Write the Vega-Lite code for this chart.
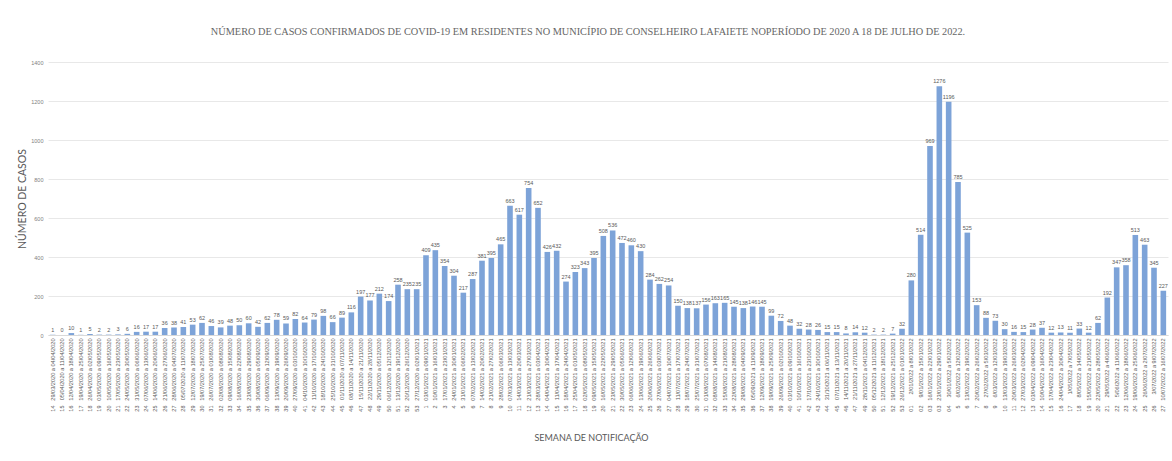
{
  "$schema": "https://vega.github.io/schema/vega-lite/v6.json",
  "width": 1120,
  "height": 273,
  "autosize": {"type": "none"},
  "padding": {"left": 48, "top": 62, "right": 4, "bottom": 126},
  "background": "white",
  "title": {
    "text": "NÚMERO DE CASOS  CONFIRMADOS DE COVID-19 EM RESIDENTES NO MUNICÍPIO DE CONSELHEIRO LAFAIETE NOPERÍODO DE  2020 A 18 DE JULHO DE 2022.",
    "font": "Liberation Serif",
    "fontSize": 10.3,
    "fontWeight": "normal",
    "color": "#666666",
    "anchor": "middle",
    "offset": 23,
    "dx": -20
  },
  "config": {"view": {"stroke": null}},
  "data": {
    "values": [
      {"k": "14|29/03/2020 a 04/04/2020", "n": 1},
      {"k": "15|05/04/2020 a 11/04/2020", "n": 0},
      {"k": "16|12/04/2020 a 18/04/2020", "n": 10},
      {"k": "17|19/04/2020 a 25/04/2020", "n": 1},
      {"k": "18|26/04/2020 a 02/05/2020", "n": 5},
      {"k": "19|03/05/2020 a 09/05/2020", "n": 2},
      {"k": "20|10/05/2020 a 16/05/2020", "n": 2},
      {"k": "21|17/05/2020 a 23/05/2020", "n": 3},
      {"k": "22|24/05/2020 a 30/05/2020", "n": 6},
      {"k": "23|31/05/2020 a 06/06/2020", "n": 16},
      {"k": "24|07/06/2020 a 13/06/2020", "n": 17},
      {"k": "25|14/06/2020 a 20/06/2020", "n": 17},
      {"k": "26|21/06/2020 a 27/06/2020", "n": 36},
      {"k": "27|28/06/2020 a 04/07/2020", "n": 38},
      {"k": "28|05/07/2020 a 11/07/2020", "n": 41},
      {"k": "29|12/07/2020 a 18/07/2020", "n": 53},
      {"k": "30|19/07/2020 a 25/07/2020", "n": 62},
      {"k": "31|26/07/2020 a 01/08/2020", "n": 46},
      {"k": "32|02/08/2020 a 08/08/2020", "n": 39},
      {"k": "33|09/08/2020 a 15/08/2020", "n": 48},
      {"k": "34|16/08/2020 a 22/08/2020", "n": 50},
      {"k": "35|23/08/2020 a 29/08/2020", "n": 60},
      {"k": "36|30/08/2020 a 05/09/2020", "n": 42},
      {"k": "37|06/09/2020 a 12/09/2020", "n": 62},
      {"k": "38|13/09/2020 a 19/09/2020", "n": 78},
      {"k": "39|20/09/2020 a 26/09/2020", "n": 59},
      {"k": "40|27/09/2020 a 03/10/2020", "n": 82},
      {"k": "41|04/10/2020 a 10/10/2020", "n": 64},
      {"k": "42|11/10/2020 a 17/10/2020", "n": 79},
      {"k": "43|18/10/2020 a 24/10/2020", "n": 98},
      {"k": "44|25/10/2020 a 31/10/2020", "n": 66},
      {"k": "45|01/11/2020 a 07/11/2020", "n": 89},
      {"k": "46|08/11/2020 a 14/11/2020", "n": 116},
      {"k": "47|15/11/2020 a 21/11/2020", "n": 197},
      {"k": "48|22/11/2020 a 28/11/2020", "n": 177},
      {"k": "49|29/11/2020 a 05/12/2020", "n": 212},
      {"k": "50|06/12/2020 a 12/12/2020", "n": 174},
      {"k": "51|13/12/2020 a 19/12/2020", "n": 258},
      {"k": "52|20/12/2020 a 26/12/2020", "n": 235},
      {"k": "53|27/12/2020 a 02/01/2021", "n": 235},
      {"k": "1|03/01/2021 a 09/01/2021", "n": 409},
      {"k": "2|10/01/2021 a 16/01/2021", "n": 435},
      {"k": "3|17/01/2021 a 23/01/2021", "n": 354},
      {"k": "4|24/01/2021 a 30/01/2021", "n": 304},
      {"k": "5|31/01/2021 a 06/02/2021", "n": 217},
      {"k": "6|07/02/2021 a 13/02/2021", "n": 287},
      {"k": "7|14/02/2021 a 20/02/2021", "n": 381},
      {"k": "8|21/02/2021 a 27/02/2021", "n": 395},
      {"k": "9|28/02/2021 a 06/03/2021", "n": 465},
      {"k": "10|07/03/2021 a 13/03/2021", "n": 663},
      {"k": "11|14/03/2021 a 20/03/2021", "n": 617},
      {"k": "12|21/03/2021 a 27/03/2021", "n": 754},
      {"k": "13|28/03/2021 a 03/04/2021", "n": 652},
      {"k": "14|04/04/2021 a 10/04/2021", "n": 426},
      {"k": "15|11/04/2021 a 17/04/2021", "n": 432},
      {"k": "16|18/04/2021 a 24/04/2021", "n": 274},
      {"k": "17|25/04/2021 a 01/05/2021", "n": 323},
      {"k": "18|02/05/2021 a 08/05/2021", "n": 343},
      {"k": "19|09/05/2021 a 15/05/2021", "n": 395},
      {"k": "20|16/05/2021 a 22/05/2021", "n": 508},
      {"k": "21|23/05/2021 a 29/05/2021", "n": 536},
      {"k": "22|30/05/2021 a 05/06/2021", "n": 472},
      {"k": "23|06/06/2021 a 12/06/2021", "n": 460},
      {"k": "24|13/06/2021 a 19/06/2021", "n": 430},
      {"k": "25|20/06/2021 a 26/06/2021", "n": 284},
      {"k": "26|27/06/2021 a 03/07/2021", "n": 262},
      {"k": "27|04/07/2021 a 10/07/2021", "n": 254},
      {"k": "28|11/07/2021 a 17/07/2021", "n": 150},
      {"k": "29|18/07/2021 a 24/07/2021", "n": 138},
      {"k": "30|25/07/2021 a 31/07/2021", "n": 137},
      {"k": "31|01/08/2021 a 07/08/2021", "n": 156},
      {"k": "32|08/08/2021 a 14/08/2021", "n": 163},
      {"k": "33|15/08/2021 a 21/08/2021", "n": 165},
      {"k": "34|22/08/2021 a 28/08/2021", "n": 145},
      {"k": "35|29/08/2021 a 04/09/2021", "n": 138},
      {"k": "36|05/09/2021 a 11/09/2021", "n": 146},
      {"k": "37|12/09/2021 a 18/09/2021", "n": 145},
      {"k": "38|19/09/2021 a 25/09/2021", "n": 99},
      {"k": "39|26/09/2021 a 02/10/2021", "n": 72},
      {"k": "40|03/10/2021 a 09/10/2021", "n": 48},
      {"k": "41|10/10/2021 a 16/10/2021", "n": 32},
      {"k": "42|17/10/2021 a 23/10/2021", "n": 28},
      {"k": "43|24/10/2021 a 30/10/2021", "n": 26},
      {"k": "44|31/10/2021 a 06/11/2021", "n": 15},
      {"k": "45|07/11/2021 a 13/11/2021", "n": 15},
      {"k": "46|14/11/2021 a 20/11/2021", "n": 8},
      {"k": "47|21/11/2021 a 27/11/2021", "n": 14},
      {"k": "49|28/11/2021 a 04/12/2021", "n": 12},
      {"k": "50|05/12/2021 a 11/12/2021", "n": 2},
      {"k": "51|12/12/2021 a 18/12/2021", "n": 2},
      {"k": "52|19/12/2021 a 25/12/2021", "n": 7},
      {"k": "53|26/12/2021 a 01/01/2022", "n": 32},
      {"k": "01|2/01/2022 a 8/01/2022", "n": 280},
      {"k": "02|9/01/2022 a 15/01/2022", "n": 514},
      {"k": "03|16/01/2022 a 22/01/2022", "n": 969},
      {"k": "03|23/01/2022 a 29/01/2022", "n": 1276},
      {"k": "04|30/01/2022 a 5/02/2022", "n": 1196},
      {"k": "5|6/02/2022 a 12/02/2022", "n": 785},
      {"k": "6|13/02/2022 a 19/02/2022", "n": 525},
      {"k": "7|20/02/2022 a 26/02/2022", "n": 153},
      {"k": "8|27/02/2022 a 5/03/2022", "n": 88},
      {"k": "9|6/03/2022 a 12/03/2022", "n": 73},
      {"k": "10|13/03/2022 a 19/03/2022", "n": 30},
      {"k": "11|20/03/2022 a 26/03/2022", "n": 16},
      {"k": "12|27/03/2022 a 02/04/2022", "n": 15},
      {"k": "13|03/04/2022 a 09/04/2022", "n": 28},
      {"k": "14|10/04/2022 a 16/04/2022", "n": 37},
      {"k": "15|17/04/2022 a 23/04/2022", "n": 12},
      {"k": "16|24/04/2022 a 30/04/2022", "n": 13},
      {"k": "17|1/05/2022 a 7/05/2022", "n": 11},
      {"k": "18|8/05/2022 a 14/05/2022", "n": 33},
      {"k": "19|15/05/2022 a 21/05/2022", "n": 12},
      {"k": "20|22/05/2022 a 28/05/2022", "n": 62},
      {"k": "21|29/05/2022 a 4/06/2022", "n": 192},
      {"k": "22|5/06/2022 a 11/06/2022", "n": 347},
      {"k": "23|12/06/2022 a 18/06/2022", "n": 358},
      {"k": "24|19/06/2022 a 25/06/2022", "n": 513},
      {"k": "25|26/06/2022 a 2/07/2022", "n": 463},
      {"k": "26|3/07/2022 a 9/07/2022", "n": 345},
      {"k": "27|10/07/2022 a 16/07/2022", "n": 227}
    ]
  },
  "layer": [
    {
      "mark": {"type": "bar", "color": "#7DA3D8"},
      "encoding": {
        "x": {
          "field": "k", "type": "nominal", "sort": null,
          "scale": {"paddingInner": 0.4, "paddingOuter": 0.2},
          "axis": {
            "orient": "bottom",
            "title": null,
            "labelExpr": "split(datum.value, '|')[1]",
            "labelAngle": -90,
            "labelFontSize": 5.6,
            "labelFont": "Liberation Sans",
            "labelColor": "#595959",
            "labelPadding": 3,
            "labelOverlap": false,
            "labelBound": false,
            "labelLimit": 200,
            "ticks": false,
            "domainColor": "#D9D9D9",
            "grid": false
          }
        },
        "y": {
          "field": "n", "type": "quantitative",
          "scale": {"domain": [0, 1400], "nice": false},
          "axis": {
            "orient": "left",
            "values": [0, 200, 400, 600, 800, 1000, 1200, 1400],
            "format": "d",
            "title": "NÚMERO DE CASOS",
            "titleFont": "Lato",
            "titleFontSize": 10.5,
            "titleFontWeight": "normal",
            "titleColor": "#595959",
            "titlePadding": 3,
            "labelFontSize": 5.5,
            "labelFont": "Liberation Sans",
            "labelColor": "#808080",
            "labelPadding": 5,
            "domain": false,
            "ticks": false,
            "gridColor": "#E8E8E8"
          }
        }
      }
    },
    {
      "mark": {"type": "text", "baseline": "bottom", "dy": -2, "fontSize": 5.5, "font": "Liberation Sans", "color": "#595959"},
      "encoding": {
        "x": {
          "field": "k", "type": "nominal", "sort": null,
          "axis": {
            "orient": "bottom",
            "title": "SEMANA DE NOTIFICAÇÃO",
            "titleFont": "Lato",
            "titleFontSize": 9,
            "titleFontWeight": "normal",
            "titleColor": "#595959",
            "titlePadding": 22,
            "titleX": 543,
            "labelExpr": "split(datum.value, '|')[0]",
            "labelAngle": -90,
            "labelFontSize": 5.5,
            "labelFont": "Liberation Sans",
            "labelColor": "#595959",
            "labelPadding": 2,
            "labelOverlap": false,
            "labelBound": false,
            "offset": 68,
            "ticks": false,
            "domain": false,
            "grid": false
          }
        },
        "y": {"field": "n", "type": "quantitative", "axis": null},
        "text": {"field": "n", "type": "quantitative"}
      }
    }
  ],
  "resolve": {"axis": {"x": "independent", "y": "independent"}}
}
